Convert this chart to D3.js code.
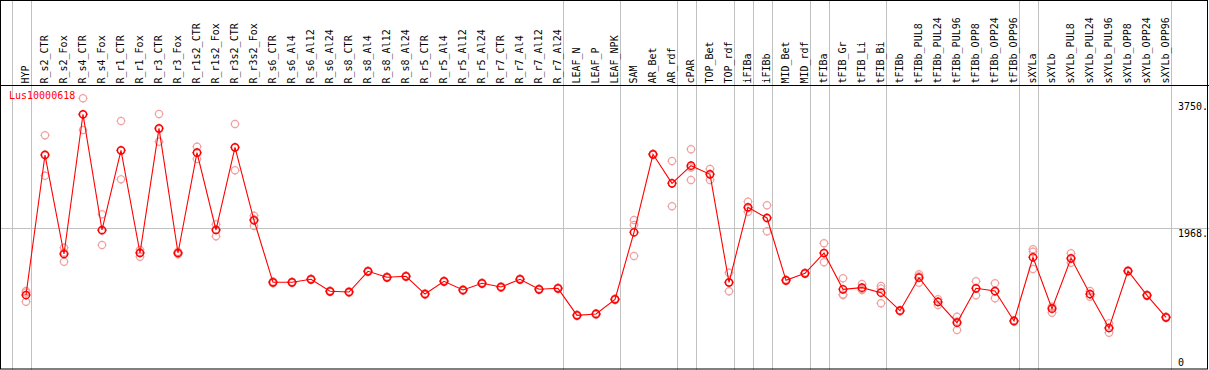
<!DOCTYPE html>
<html>
<head>
<meta charset="utf-8">
<script src="https://cdn.jsdelivr.net/npm/d3@7"></script>
<style>
  body { margin: 0; background: #fff; }
  text { font-family: "DejaVu Sans Mono", monospace; font-size: 10px; }
</style>
</head>
<body>
<div id="chart"></div>
<script>
// gene shown
var geneName = "Lus10000618";

// sample names, left to right
var samples = ["HYP", "R_s2_CTR", "R_s2_Fox", "R_s4_CTR", "R_s4_Fox", "R_r1_CTR", "R_r1_Fox",
  "R_r3_CTR", "R_r3_Fox", "R_r1s2_CTR", "R_r1s2_Fox", "R_r3s2_CTR", "R_r3s2_Fox",
  "R_s6_CTR", "R_s6_Al4", "R_s6_Al12", "R_s6_Al24", "R_s8_CTR", "R_s8_Al4", "R_s8_Al12", "R_s8_Al24",
  "R_r5_CTR", "R_r5_Al4", "R_r5_Al12", "R_r5_Al24", "R_r7_CTR", "R_r7_Al4", "R_r7_Al12", "R_r7_Al24",
  "LEAF_N", "LEAF_P", "LEAF_NPK", "SAM", "AR_Bet", "AR_rdf", "cPAR", "TOP_Bet", "TOP_rdf",
  "iFIBa", "iFIBb", "MID_Bet", "MID_rdf", "tFIBa", "tFIB_Gr", "tFIB_Li", "tFIB_Bi",
  "tFIBb", "tFIBb_PUL8", "tFIBb_PUL24", "tFIBb_PUL96", "tFIBb_OPP8", "tFIBb_OPP24", "tFIBb_OPP96",
  "sXYLa", "sXYLb", "sXYLb_PUL8", "sXYLb_PUL24", "sXYLb_PUL96", "sXYLb_OPP8", "sXYLb_OPP24", "sXYLb_OPP96"];

// number of samples in each group (gray separators between groups)
var groupSizes = [1, 28, 3, 3, 1, 2, 1, 1, 2, 1, 3, 7, 1, 7];

// mean expression per sample
var means = [1035, 2994, 1609, 3564, 1945, 3060, 1623, 3368, 1623, 3027, 1945, 3102, 2081,
  1213, 1213, 1255, 1087, 1077, 1367, 1283, 1297, 1049, 1227, 1105, 1199, 1147, 1255, 1115, 1129,
  751, 770, 975, 1913, 3004, 2598, 2845, 2724, 1213, 2263, 2113, 1241, 1339, 1623, 1115, 1138, 1068,
  816, 1278, 938, 648, 1129, 1091, 672, 1563, 844, 1549, 1049, 574, 1371, 1031, 723];

// replicate values per sample
var replicates = [
  [1091, 1070, 942], [3270, 3005, 2705], [1697, 1630, 1501], [3788, 3560, 3344], [2165, 1935, 1735],
  [3470, 3055, 2654], [1665, 1633, 1571], [3568, 3355, 3181], [1640, 1623, 1605], [3111, 3030, 2939],
  [2025, 1953, 1857], [3428, 3098, 2780], [2145, 2097, 2001],
  [1225, 1213, 1200], [1222, 1213, 1204], [1265, 1255, 1245], [1097, 1087, 1077], [1087, 1077, 1067],
  [1377, 1367, 1357], [1293, 1283, 1273], [1307, 1297, 1287], [1059, 1049, 1039], [1237, 1227, 1217],
  [1115, 1105, 1095], [1209, 1199, 1189], [1157, 1147, 1137], [1265, 1255, 1245], [1125, 1115, 1105],
  [1139, 1129, 1119],
  [761, 751, 741], [780, 770, 760], [985, 975, 965], [2085, 2015, 1581], [3014, 3004, 2994],
  [2910, 2600, 2277], [3074, 2820, 2645], [2799, 2730, 2645], [1348, 1205, 1087], [2341, 2250, 2201],
  [2291, 2120, 1927], [1251, 1241, 1231], [1349, 1339, 1329], [1759, 1620, 1493], [1269, 1041, 1035],
  [1189, 1120, 1105], [1161, 1125, 919],
  [826, 816, 806], [1325, 1300, 1208], [975, 943, 896], [732, 666, 546], [1227, 1130, 1031],
  [1199, 1085, 989], [682, 672, 662], [1675, 1641, 1399], [872, 860, 788], [1619, 1541, 1487],
  [1091, 1044, 1012], [639, 575, 508], [1381, 1371, 1361], [1041, 1031, 1021], [733, 723, 713]];

// y axis tick labels
var yTicks = [0, 1968, 3750];
var yTickLabels = ["0", "1968.", "3750."];

var svgWidth = 1209;
var svgHeight = 370;
var headerBottom = 85.5;

var svg = d3.select("#chart").append("svg")
  .attr("width", svgWidth)
  .attr("height", svgHeight);

svg.append("rect")
  .attr("width", svgWidth)
  .attr("height", svgHeight)
  .attr("fill", "#fff");

// x: one column per sample
var xScale = d3.scalePoint()
  .domain(samples)
  .range([26, 1166]);
var step = xScale.step();

// y: expression value
var yScale = d3.scaleLinear()
  .domain([0, 3750])
  .range([369, 101]);

// group separator positions (after each group's last sample)
var sepX = [xScale(samples[0]) - step + 4.5];
var idx = -1;
groupSizes.forEach(function(n) {
  idx += n;
  sepX.push(xScale(samples[idx]) + 4.5);
});

svg.selectAll(".sep")
  .data(sepX)
  .enter()
  .append("line")
  .attr("class", "sep")
  .attr("x1", d => Math.round(d) + 0.5)
  .attr("x2", d => Math.round(d) + 0.5)
  .attr("y1", 0)
  .attr("y2", svgHeight)
  .attr("stroke", "#c0c0c0");

// horizontal reference line at the middle tick
svg.append("line")
  .attr("x1", 0)
  .attr("x2", svgWidth)
  .attr("y1", Math.round(yScale(yTicks[1])) + 0.5)
  .attr("y2", Math.round(yScale(yTicks[1])) + 0.5)
  .attr("stroke", "#c0c0c0");

// header / frame
svg.append("line")
  .attr("x1", 0)
  .attr("x2", svgWidth)
  .attr("y1", headerBottom)
  .attr("y2", headerBottom)
  .attr("stroke", "#000");

svg.append("rect")
  .attr("x", 0.5)
  .attr("y", 0.5)
  .attr("width", 1207)
  .attr("height", 368.5)
  .attr("fill", "none")
  .attr("stroke", "#000");

// sample labels, rotated
svg.selectAll(".sampleLabel")
  .data(samples)
  .enter()
  .append("text")
  .attr("class", "sampleLabel")
  .attr("transform", d => `translate(${xScale(d) + 2.5}, 83.5) rotate(-90)`)
  .attr("fill", "#000")
  .text(d => d);

// y tick labels on the right
svg.selectAll(".yLabel")
  .data(yTicks)
  .enter()
  .append("text")
  .attr("class", "yLabel")
  .attr("x", 1178)
  .attr("y", d => Math.min(yScale(d) + 8.5, 366))
  .attr("fill", "#000")
  .text((d, i) => yTickLabels[i]);

// gene name
svg.append("text")
  .attr("x", 9)
  .attr("y", 99)
  .attr("fill", "#ff0000")
  .text(geneName);

// marker shape: open circle with tiny ticks
function markerPath(r) {
  var p = d3.path();
  p.moveTo(r, 0);
  p.arc(0, 0, r, 0, 2 * Math.PI);
  p.moveTo(0, -r - 1); p.lineTo(0, -r);
  p.moveTo(0, r); p.lineTo(0, r + 1);
  p.moveTo(-r - 1, 0); p.lineTo(-r, 0);
  p.moveTo(r, 0); p.lineTo(r + 1, 0);
  return p.toString();
}

// replicate points
var repData = [];
samples.forEach(function(s, i) {
  replicates[i].forEach(function(v) { repData.push({ sample: s, value: v }); });
});

svg.selectAll(".rep")
  .data(repData)
  .enter()
  .append("path")
  .attr("class", "rep")
  .attr("transform", d => `translate(${xScale(d.sample)}, ${yScale(d.value)})`)
  .attr("d", markerPath(3.6))
  .attr("fill", "none")
  .attr("stroke", "#f0a0a0")
  .attr("stroke-width", 1.2);

// mean line
var line = d3.line()
  .x((d, i) => xScale(samples[i]))
  .y(d => yScale(d));

svg.append("path")
  .datum(means)
  .attr("d", line)
  .attr("fill", "none")
  .attr("stroke", "#ff0000")
  .attr("stroke-width", 1.1);

// mean points
svg.selectAll(".mean")
  .data(means)
  .enter()
  .append("path")
  .attr("class", "mean")
  .attr("transform", (d, i) => `translate(${xScale(samples[i])}, ${yScale(d)})`)
  .attr("d", markerPath(3.6))
  .attr("fill", "none")
  .attr("stroke", "#ff0000")
  .attr("stroke-width", 1.5);
</script>
</body>
</html>
